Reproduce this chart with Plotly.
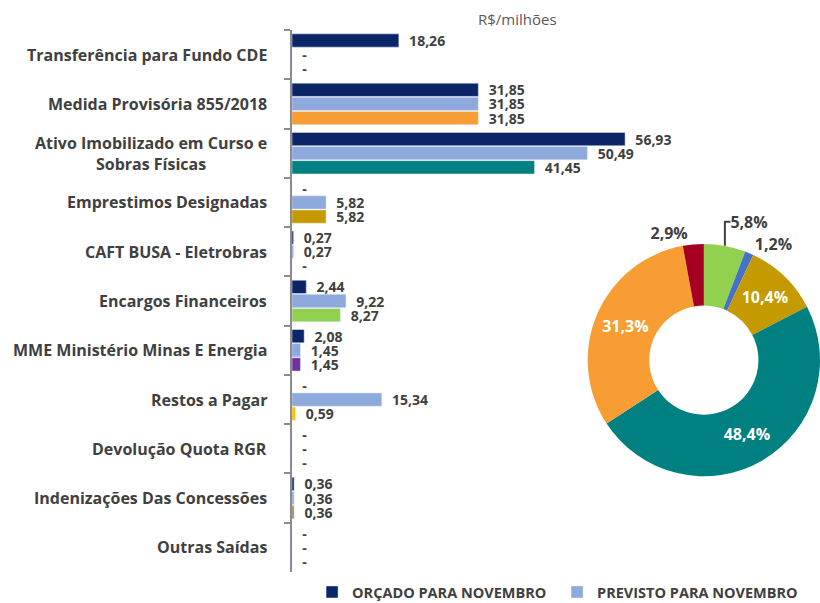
import plotly.graph_objects as go

categories = [
    "Transferência para Fundo CDE",
    "Medida Provisória 855/2018",
    "Ativo Imobilizado em Curso e<br>Sobras Físicas",
    "Emprestimos Designadas",
    "CAFT BUSA - Eletrobras",
    "Encargos Financeiros",
    "MME Ministério Minas E Energia",
    "Restos a Pagar",
    "Devolução Quota RGR",
    "Indenizações Das Concessões",
    "Outras Saídas",
]
orcado = [18.26, 31.85, 56.93, 0, 0.27, 2.44, 2.08, 0, 0, 0.36, 0]
previsto = [0, 31.85, 50.49, 5.82, 0.27, 9.22, 1.45, 15.34, 0, 0.36, 0]
realizado = [0, 31.85, 41.45, 5.82, 0, 8.27, 1.45, 0.59, 0, 0.36, 0]
realizado_colors = ["#F79D34", "#F79D34", "#008080", "#C49A00", "#C49A00", "#92D050",
                    "#7030A0", "#FFC000", "#FFC000", "#A67C52", "#A67C52"]

donut_labels = ["Verde", "Azul", "Ouro", "Verde-azulado", "Laranja", "Vermelho"]
donut_values = [5.8, 1.2, 10.4, 48.4, 31.3, 2.9]
donut_colors = ["#92D050", "#4472C4", "#C49A00", "#008080", "#F79D34", "#A50021"]
donut_textpos = ["outside", "outside", "inside", "inside", "inside", "outside"]

legend_names = ["ORÇADO PARA NOVEMBRO", "PREVISTO PARA NOVEMBRO", "REALIZADO"]

FONT = "Open Sans"
TXT = "#404040"
NB = "\u00a0"


def fmt(v):
    return NB * 2 + ("-" if v == 0 else f"{v:.2f}".replace(".", ","))


fig = go.Figure()
series = [(orcado, "#0B2566", legend_names[0], True),
          (previsto, "#8EA9DB", legend_names[1], True),
          (realizado, realizado_colors, legend_names[2], False)]
for vals, col, name, sl in series:
    fig.add_trace(go.Bar(
        y=categories, x=vals, orientation="h", name=name, showlegend=sl,
        marker=dict(color=col),
        text=[fmt(v) for v in vals], textposition="outside", cliponaxis=False,
        constraintext="none",
        textfont=dict(family=FONT, size=14, color=TXT, weight="bold"),
        xaxis="x", yaxis="y",
    ))

fig.add_trace(go.Pie(
    labels=donut_labels, values=donut_values, hole=0.47, sort=False,
    direction="clockwise", rotation=0,
    marker=dict(colors=donut_colors, line=dict(color="white", width=0)),
    text=[f"{v:.1f}".replace(".", ",") + "%" for v in donut_values],
    textinfo="text", textposition=donut_textpos,
    insidetextorientation="horizontal",
    insidetextfont=dict(family=FONT, size=16, color="white", weight="bold"),
    outsidetextfont=dict(family=FONT, size=16, color=TXT, weight="bold"),
    domain=dict(x=[0.56, 1.0], y=[0.175, 0.607]),
    showlegend=False,
))

annotations = []
for c in categories:
    annotations.append(dict(
        x=0, xref="paper", y=c, yref="y", xanchor="right", xshift=-23,
        text=c, showarrow=False, align="center",
        font=dict(family=FONT, size=16, color=TXT, weight="bold"),
    ))
annotations.append(dict(
    x=0.428, xref="paper", y=1.02, yref="paper", text="R$/milhões",
    showarrow=False, xanchor="center", yanchor="middle",
    font=dict(family=FONT, size=15, color="#595959"),
))

fig.update_layout(
    width=820, height=603,
    margin=dict(l=292, r=0, t=30, b=31, autoexpand=False),
    paper_bgcolor="white", plot_bgcolor="white",
    barmode="group", bargap=0.14, bargroupgap=0.06,
    xaxis=dict(domain=[0, 0.697], range=[0, 62.9], showticklabels=False,
               showgrid=False, zeroline=False, showline=False),
    yaxis=dict(type="category", categoryorder="array", categoryarray=categories,
               autorange="reversed", showticklabels=False, showgrid=False,
               zeroline=False, showline=True, linecolor="#8C8C8C", linewidth=1.5,
               ticks="outside", tickson="boundaries", ticklen=6,
               tickcolor="#8C8C8C", tickwidth=1.5),
    legend=dict(orientation="h", x=0.038, y=-0.037, xanchor="left", yanchor="middle",
                font=dict(family=FONT, size=14.5, color=TXT, weight="bold"),
                entrywidth=200, entrywidthmode="pixels", itemwidth=30,
                tracegroupgap=0),
    annotations=annotations,
    font=dict(family=FONT),
)

fig.write_html("out.html", post_script="document.body.style.margin='0';",
               config={"displayModeBar": False})
